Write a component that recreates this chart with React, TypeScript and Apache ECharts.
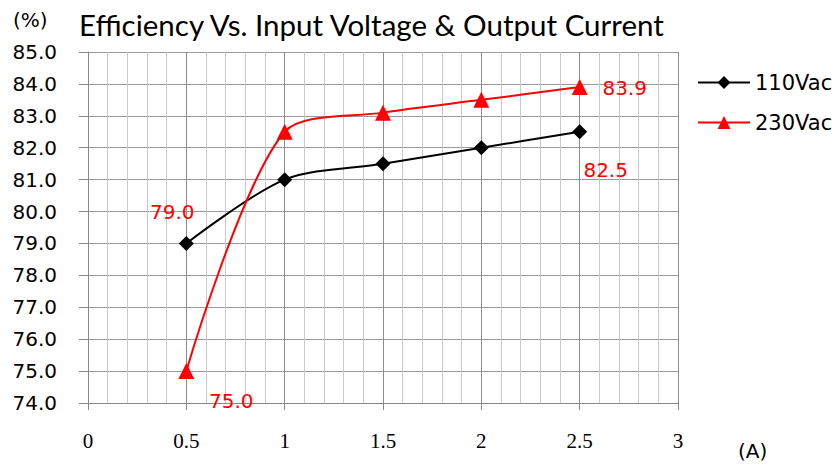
import React, { useEffect, useRef } from "react";
import * as echarts from "echarts";

const currents = [0.5, 1, 1.5, 2, 2.5];
const eff110 = [79.0, 81.0, 81.5, 82.0, 82.5];
const eff230 = [75.0, 82.5, 83.1, 83.5, 83.9];
const seriesNames = ["110Vac", "230Vac"];
const titleText = "Efficiency Vs. Input Voltage & Output Current";

export default function App() {
  const ref = useRef<HTMLDivElement>(null);
  useEffect(() => {
    document.body.style.margin = "0";
    if (!ref.current) return;
    const chart = echarts.init(ref.current, null, { renderer: "svg" });
    const labelStyle = (offset: number[]) => ({
      show: true,
      position: "inside",
      offset,
      color: "#ff0000",
      fontSize: 20,
      fontFamily: "DejaVu Sans",
      formatter: (p: any) => p.value[1].toFixed(1),
    });
    const data110 = currents.map((x, i) => {
      const item: any = { value: [x, eff110[i]] };
      if (i === 0) item.label = labelStyle([-14, -31]);
      if (i === currents.length - 1) item.label = labelStyle([26, 38]);
      return item;
    });
    const data230 = currents.map((x, i) => {
      const item: any = { value: [x, eff230[i]] };
      if (i === 0) item.label = labelStyle([45, 30]);
      if (i === currents.length - 1) item.label = labelStyle([45, 1]);
      return item;
    });
    chart.setOption({
      animation: false,
      backgroundColor: "#ffffff",
      grid: { left: 88, right: 160, top: 52, bottom: 62 },
      graphic: [
        {
          type: "text",
          left: 79,
          top: 9,
          style: { text: titleText, fontSize: 29.5, fontFamily: "Lato", fill: "#000" },
        },
        {
          type: "text",
          left: 13,
          top: 10,
          style: { text: "(%)", fontSize: 20, fontFamily: "DejaVu Sans", fill: "#000" },
        },
        {
          type: "text",
          left: 738,
          top: 441,
          style: { text: "(A)", fontSize: 20, fontFamily: "DejaVu Sans", fill: "#000" },
        },
      ],
      legend: {
        orient: "vertical",
        left: 697,
        top: 72,
        padding: 0,
        itemWidth: 52,
        itemHeight: 16,
        itemGap: 19,
        textStyle: { fontSize: 21, fontFamily: "DejaVu Sans", color: "#000" },
        data: seriesNames,
      },
      xAxis: {
        type: "value",
        min: 0,
        max: 3,
        interval: 0.5,
        axisLine: { show: true, lineStyle: { color: "#888", width: 1 } },
        axisTick: { show: true, length: 7, lineStyle: { color: "#888" } },
        axisLabel: {
          margin: 27,
          fontSize: 21,
          fontFamily: "Liberation Serif",
          color: "#000",
          formatter: (v: number) => String(v),
        },
        splitLine: { show: true, lineStyle: { color: "#8c8c8c", width: 1 } },
        minorTick: { show: false, splitNumber: 5 },
        minorSplitLine: { show: true, lineStyle: { color: "#c8c8c8", width: 1 } },
      },
      yAxis: {
        type: "value",
        min: 74,
        max: 85,
        interval: 1,
        axisLine: { show: true, lineStyle: { color: "#888", width: 1 } },
        axisTick: { show: true, length: 9, lineStyle: { color: "#888" } },
        axisLabel: {
          margin: 31,
          fontSize: 20,
          fontFamily: "DejaVu Sans",
          color: "#000",
          formatter: (v: number) => v.toFixed(1),
        },
        splitLine: { show: true, lineStyle: { color: "#999", width: 1 } },
      },
      series: [
        {
          name: seriesNames[0],
          type: "line",
          smooth: 0.3,
          data: data110,
          symbol: "diamond",
          symbolSize: 15,
          lineStyle: { color: "#000", width: 2 },
          itemStyle: { color: "#000" },
          label: { show: false },
          z: 3,
        },
        {
          name: seriesNames[1],
          type: "line",
          smooth: 0.3,
          data: data230,
          symbol: "triangle",
          symbolSize: 16,
          lineStyle: { color: "#ff0000", width: 2 },
          itemStyle: { color: "#ff0000" },
          label: { show: false },
          z: 4,
        },
      ],
    });
    return () => chart.dispose();
  }, []);
  return <div ref={ref} style={{ width: 838, height: 465 }} />;
}
